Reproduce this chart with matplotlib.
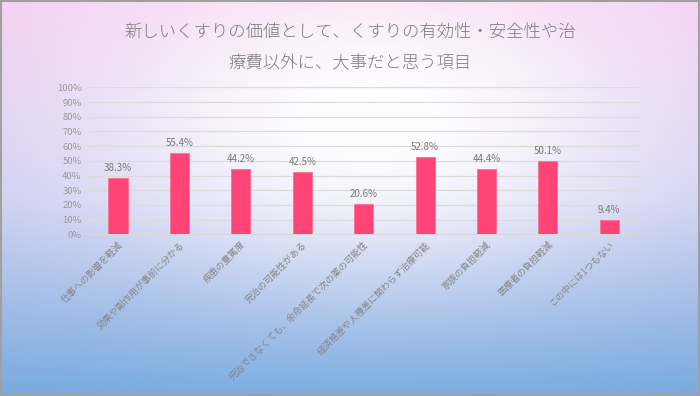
import matplotlib

matplotlib.use("Agg")

import matplotlib.pyplot as plt
import numpy as np

plt.rcParams["font.family"] = ["Noto Sans CJK JP", "DejaVu Sans"]

title = "新しいくすりの価値として、くすりの有効性・安全性や治\n療費以外に、大事だと思う項目"
categories = [
    "仕事への影響を軽減",
    "効果や副作用が事前に分かる",
    "疾患の重篤度",
    "完治の可能性がある",
    "完治できなくても、余命延長で次の薬の可能性",
    "経済格差や人種差に関わらず治療可能",
    "家族の負担軽減",
    "医療者の負担軽減",
    "この中には1つもない",
]
values = [38.3, 55.4, 44.2, 42.5, 20.6, 52.8, 44.4, 50.1, 9.4]

W, H = 700, 396
fig = plt.figure(figsize=(W / 100, H / 100), dpi=100)

# background gradient: pink top, white glow, blue bottom
yy, xx = np.mgrid[0:1:H * 1j, 0:1:W * 1j]
stops_y = [0.0, 0.5, 1.0]
stops_c = np.array([[244, 204, 240], [203, 203, 240], [118, 170, 222]]) / 255
base = np.stack([np.interp(yy, stops_y, stops_c[:, k]) for k in range(3)], axis=-1)
glow = np.exp(-(((xx - 0.53) / 0.42) ** 2 + ((yy - 0.30) / 0.40) ** 2))
bg = base * (1 - glow[..., None]) + glow[..., None]
bax = fig.add_axes([0, 0, 1, 1], zorder=-1)
bax.imshow(bg, aspect="auto", extent=[0, 1, 0, 1])
bax.set_axis_off()
bax.add_patch(plt.Rectangle((0.001, 0.002), 0.997, 0.995, fill=False,
                            edgecolor="#a0a0a0", linewidth=1.5, transform=bax.transAxes))

ax = fig.add_axes([0.1247, 0.4083, 0.7895, 0.3712])
ax.set_facecolor("none")
x = np.arange(len(values))
bars = ax.bar(x, values, width=0.31, color="#ff4477", edgecolor="#ff6f95", linewidth=0.6, zorder=3)
for xi, v in zip(x, values):
    ax.text(xi, v + 3.5, f"{v}%", ha="center", va="bottom", fontsize=7, color="#7a7a7a")

ax.set_xlim(-0.5, len(values) - 0.5)
ax.set_ylim(0, 100)
ax.set_yticks(np.arange(0, 101, 10))
ax.set_yticklabels([f"{t}%" for t in range(0, 101, 10)], fontsize=6.8, color="#9a9a9a")
ax.yaxis.grid(True, color="#dcdcdc", linewidth=0.9, zorder=0)
ax.set_xticks(x)
ax.set_xticklabels(categories, rotation=45, ha="right", va="top", rotation_mode="anchor",
                   fontsize=6.6, color="#858585")
ax.tick_params(axis="both", length=0, pad=4)
for side in ["top", "right", "left"]:
    ax.spines[side].set_visible(False)
ax.spines["bottom"].set_color("#d8d8d8")

fig.text(0.5, 0.878, title, ha="center", va="center", fontsize=12.5, color="#7c7c7c",
         linespacing=1.9, fontweight="light")

fig.savefig("out.png", dpi=100)
